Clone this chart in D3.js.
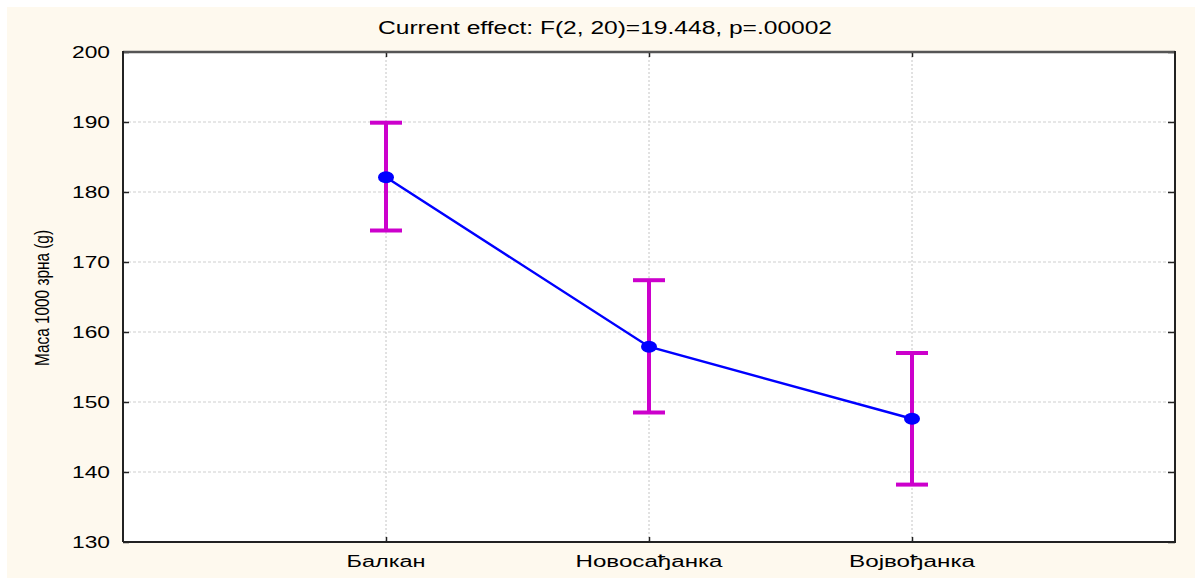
<!DOCTYPE html>
<html>
<head>
<meta charset="utf-8">
<script src="https://cdn.jsdelivr.net/npm/d3@7"></script>
<style>
  html, body { margin: 0; padding: 0; background: #ffffff; }
  svg { display: block; }
  text { font-family: "Liberation Sans", Arial, sans-serif; fill: #000; }
</style>
</head>
<body>
<svg id="chart" width="1195" height="578"></svg>
<script>
// ---- data ----
const categories = ["Балкан", "Новосађанка", "Војвођанка"];
const means = [182.1, 157.9, 147.6];
const upper = [189.9, 167.4, 157.0];
const lower = [174.5, 148.5, 138.2];
const yTicks = [130, 140, 150, 160, 170, 180, 190, 200];
const titleText = "Current effect: F(2, 20)=19.448, p=.00002";
const yLabel = "Маса 1000 зрна (g)";

// ---- layout ----
const W = 1195, H = 578;
const plot = { left: 123, top: 52, right: 1175, bottom: 542 };

const svg = d3.select("#chart");

// cream panel
svg.append("rect").attr("x", 7).attr("y", 7).attr("width", W - 7).attr("height", H - 7)
  .attr("fill", "#fef9ee");

// plot area
svg.append("rect").attr("x", plot.left).attr("y", plot.top)
  .attr("width", plot.right - plot.left).attr("height", plot.bottom - plot.top)
  .attr("fill", "#ffffff");

const x = d3.scalePoint().domain(categories).range([plot.left, plot.right]).padding(1);
const y = d3.scaleLinear().domain([130, 200]).range([plot.bottom, plot.top]);

// grid lines
const grid = svg.append("g");
grid.selectAll("line.hg").data(yTicks.filter(d => d > 130 && d < 200)).join("line")
  .attr("x1", plot.left).attr("x2", plot.right)
  .attr("y1", d => y(d)).attr("y2", d => y(d))
  .attr("stroke", "#cfcfcf").attr("stroke-width", 1).attr("stroke-dasharray", "3,2");
grid.selectAll("line.vg").data(categories).join("line")
  .attr("x1", d => x(d)).attr("x2", d => x(d))
  .attr("y1", plot.top).attr("y2", plot.bottom)
  .attr("stroke", "#c4c4c4").attr("stroke-width", 1).attr("stroke-dasharray", "2,2");

// axes (ticks inward)
const leftAxis = d3.axisLeft(y).tickValues(yTicks).tickSize(-6).tickFormat("");
const rightAxis = d3.axisRight(y).tickValues(yTicks).tickSize(-7).tickFormat("");
const bottomAxis = d3.axisBottom(x).tickSize(-5).tickFormat("");
const topAxis = d3.axisTop(x).tickSize(-5).tickFormat("");

function styleAxis(g) {
  g.selectAll(".domain").remove();
  g.selectAll(".tick line").attr("stroke", "#222").attr("stroke-width", 1.5);
}
svg.append("g").attr("transform", `translate(${plot.left},0)`).call(leftAxis).call(styleAxis);
svg.append("g").attr("transform", `translate(${plot.right},0)`).call(rightAxis).call(styleAxis);
svg.append("g").attr("transform", `translate(0,${plot.bottom})`).call(bottomAxis).call(styleAxis);
svg.append("g").attr("transform", `translate(0,${plot.top})`).call(topAxis).call(styleAxis);

// frame
svg.append("line").attr("x1", plot.left).attr("x2", plot.right).attr("y1", plot.top).attr("y2", plot.top)
  .attr("stroke", "#555").attr("stroke-width", 2.5);
svg.append("line").attr("x1", plot.left).attr("x2", plot.left).attr("y1", plot.top - 1).attr("y2", plot.bottom)
  .attr("stroke", "#222").attr("stroke-width", 2);
svg.append("line").attr("x1", plot.right).attr("x2", plot.right).attr("y1", plot.top - 1).attr("y2", plot.bottom + 1)
  .attr("stroke", "#222").attr("stroke-width", 2);
svg.append("line").attr("x1", plot.left).attr("x2", plot.right).attr("y1", plot.bottom).attr("y2", plot.bottom)
  .attr("stroke", "#222").attr("stroke-width", 2);

// y tick labels
svg.append("g").selectAll("text").data(yTicks).join("text")
  .attr("x", 110).attr("y", d => y(d) + 5.5)
  .attr("text-anchor", "end")
  .attr("font-size", 16)
  .attr("textLength", 38).attr("lengthAdjust", "spacingAndGlyphs")
  .text(d => d);

// x category labels
const catWidths = [79, 147, 126];
svg.append("g").selectAll("text").data(categories).join("text")
  .attr("x", d => x(d)).attr("y", 567)
  .attr("text-anchor", "middle")
  .attr("font-size", 16)
  .attr("textLength", (d, i) => catWidths[i]).attr("lengthAdjust", "spacingAndGlyphs")
  .text(d => d);

// title
svg.append("text").attr("x", 605).attr("y", 34).attr("text-anchor", "middle")
  .attr("font-size", 18)
  .attr("textLength", 454).attr("lengthAdjust", "spacingAndGlyphs")
  .text(titleText);

// y axis label
svg.append("text")
  .attr("transform", "translate(49,298) rotate(-90)")
  .attr("text-anchor", "middle")
  .attr("font-size", 20)
  .attr("textLength", 136).attr("lengthAdjust", "spacingAndGlyphs")
  .text(yLabel);

// error bars
const eb = svg.append("g");
const capHalf = 16;
eb.selectAll("line.v").data(categories).join("line")
  .attr("x1", d => x(d)).attr("x2", d => x(d))
  .attr("y1", (d, i) => y(upper[i])).attr("y2", (d, i) => y(lower[i]))
  .attr("stroke", "#cc00cc").attr("stroke-width", 4);
eb.selectAll("line.u").data(categories).join("line")
  .attr("x1", d => x(d) - capHalf).attr("x2", d => x(d) + capHalf)
  .attr("y1", (d, i) => y(upper[i])).attr("y2", (d, i) => y(upper[i]))
  .attr("stroke", "#cc00cc").attr("stroke-width", 4);
eb.selectAll("line.l").data(categories).join("line")
  .attr("x1", d => x(d) - capHalf).attr("x2", d => x(d) + capHalf)
  .attr("y1", (d, i) => y(lower[i])).attr("y2", (d, i) => y(lower[i]))
  .attr("stroke", "#cc00cc").attr("stroke-width", 4);

// mean line
const line = d3.line().x((d, i) => x(categories[i])).y(d => y(d));
svg.append("path").datum(means).attr("d", line)
  .attr("fill", "none").attr("stroke", "#0000ff").attr("stroke-width", 2.5);

// markers
svg.append("g").selectAll("ellipse").data(means).join("ellipse")
  .attr("cx", (d, i) => x(categories[i])).attr("cy", d => y(d))
  .attr("rx", 8).attr("ry", 6).attr("fill", "#0000ff");
</script>
</body>
</html>
